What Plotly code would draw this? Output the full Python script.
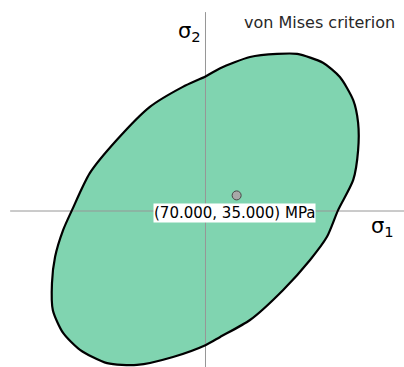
import plotly.graph_objects as go

# Yield surface outline (principal stresses, MPa), traced around the boundary
sigma1_boundary = [1, 33, 100, 161, 206, 264, 302, 332, 343, 343, 332, 298, 273, 235,
                   174, 100, 33, 1, -73, -154, -221, -282, -320, -343, -345, -338,
                   -320, -300, -260, -199, -125, -51]
sigma2_boundary = [303, 321, 346, 353, 353, 333, 301, 249, 198, 137, 70, 2, -58, -110,
                   -178, -245, -283, -301, -328, -346, -342, -312, -274, -223, -162, -103,
                   -43, 2, 85, 160, 234, 279]

# Current stress state (MPa)
state_sigma1 = [70.0]
state_sigma2 = [35.0]

title_text = "von Mises criterion"
unit = "MPa"

W, H = 404, 367
X_RANGE = [-461.8, 446.1]
Y_RANGE = [-350.6, 474.2]

FILL = "rgb(128,212,176)"
AXIS = "rgb(150,150,150)"

x_closed = sigma1_boundary + sigma1_boundary[:1]
y_closed = sigma2_boundary + sigma2_boundary[:1]

fig = go.Figure()

# filled region
fig.add_trace(go.Scatter(x=x_closed, y=y_closed, mode="lines", fill="toself",
                         fillcolor=FILL, line=dict(width=0, shape="spline", smoothing=0.7),
                         hoverinfo="skip", showlegend=False))

# principal stress axes
fig.add_trace(go.Scatter(x=[-439, X_RANGE[1]], y=[0, 0], mode="lines",
                         line=dict(color=AXIS, width=1), hoverinfo="skip",
                         showlegend=False))
fig.add_trace(go.Scatter(x=[0, 0], y=[447, Y_RANGE[0]], mode="lines",
                         line=dict(color=AXIS, width=1), hoverinfo="skip",
                         showlegend=False))

# boundary outline
fig.add_trace(go.Scatter(x=x_closed, y=y_closed, mode="lines",
                         line=dict(color="black", width=2.2, shape="spline", smoothing=0.7),
                         hoverinfo="skip", showlegend=False))

# stress point
fig.add_trace(go.Scatter(x=state_sigma1, y=state_sigma2, mode="markers",
                         marker=dict(size=9, color="rgb(168,168,168)",
                                     line=dict(color="rgb(70,70,70)", width=1)),
                         showlegend=False))

fig.add_annotation(x=state_sigma1[0], y=state_sigma2[0], xref="x", yref="y",
                   text=f"({state_sigma1[0]:.3f}, {state_sigma2[0]:.3f}) {unit}",
                   showarrow=False, xshift=-2, yshift=-18, bgcolor="white",
                   borderpad=0, font=dict(family="DejaVu Sans", size=15, color="black"))

fig.add_annotation(x=319 / W, y=1 - 22 / H, xref="paper", yref="paper",
                   text=title_text, showarrow=False, xanchor="center", yanchor="middle",
                   font=dict(family="DejaVu Sans", size=16, color="rgb(40,40,40)"))

fig.add_annotation(x=176 / W, y=1 - 32 / H, xref="paper", yref="paper",
                   text="σ<sub>2</sub>", showarrow=False, xanchor="left", yanchor="middle",
                   font=dict(family="DejaVu Sans", size=21, color="black"))
fig.add_annotation(x=369 / W, y=1 - 227 / H, xref="paper", yref="paper",
                   text="σ<sub>1</sub>", showarrow=False, xanchor="left", yanchor="middle",
                   font=dict(family="DejaVu Sans", size=21, color="black"))

fig.update_layout(width=W, height=H, margin=dict(l=0, r=0, t=0, b=0),
                  paper_bgcolor="white", plot_bgcolor="white",
                  xaxis=dict(range=X_RANGE, visible=False, fixedrange=True),
                  yaxis=dict(range=Y_RANGE, visible=False, fixedrange=True))

fig.write_html("out.html", config={"displayModeBar": False})
